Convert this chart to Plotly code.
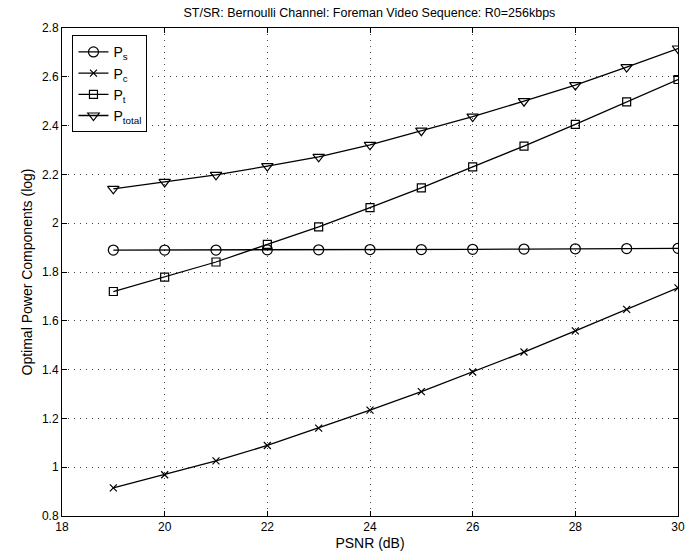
import plotly.graph_objects as go

psnr = [19, 20, 21, 22, 23, 24, 25, 26, 27, 28, 29, 30]
p_s = [1.890, 1.890, 1.890, 1.891, 1.891, 1.892, 1.892, 1.893, 1.894, 1.895, 1.896, 1.897]
p_c = [0.915, 0.969, 1.026, 1.089, 1.160, 1.234, 1.310, 1.390, 1.472, 1.559, 1.647, 1.735]
p_t = [1.720, 1.779, 1.841, 1.913, 1.985, 2.064, 2.145, 2.231, 2.316, 2.405, 2.497, 2.589]
p_total = [2.141, 2.169, 2.198, 2.234, 2.272, 2.321, 2.379, 2.437, 2.500, 2.566, 2.640, 2.716]

x_ticks = [18, 20, 22, 24, 26, 28, 30]
y_ticks = [0.8, 1.0, 1.2, 1.4, 1.6, 1.8, 2.0, 2.2, 2.4, 2.6, 2.8]
y_tick_text = ["0.8", "1", "1.2", "1.4", "1.6", "1.8", "2", "2.2", "2.4", "2.6", "2.8"]

series = [
    ("P<sub>s</sub>", p_s, "circle-open", 10),
    ("P<sub>c</sub>", p_c, "x-thin-open", 7),
    ("P<sub>t</sub>", p_t, "square-open", 8),
    ("P<sub>total</sub>", p_total, "triangle-down-open", 10),
]

fig = go.Figure()
for name, vals, sym, sz in series:
    fig.add_trace(go.Scatter(
        x=psnr, y=vals, name=name, mode="lines+markers",
        line=dict(color="black", width=1.3),
        marker=dict(symbol=sym, size=sz, color="black", line=dict(color="black", width=1.2)),
    ))

axis_common = dict(
    showline=True, linecolor="black", linewidth=1, mirror="ticks",
    ticks="inside", ticklen=5, tickcolor="black",
    showgrid=True, gridcolor="#444444", griddash="1px,5px", gridwidth=1,
    zeroline=False, tickfont=dict(size=12, color="black"),
)

fig.update_layout(
    width=697, height=560,
    paper_bgcolor="white", plot_bgcolor="white",
    font=dict(family="Liberation Sans, Arial, sans-serif", color="black", size=12),
    margin=dict(l=62, r=17, t=28, b=41),
    title=dict(text="ST/SR: Bernoulli Channel: Foreman Video Sequence: R0=256kbps",
               x=0.53, xanchor="center", y=0.985, yanchor="top", font=dict(size=12.5)),
    xaxis=dict(range=[18, 30], tickvals=x_ticks, title=dict(text="PSNR (dB)", standoff=4), **axis_common),
    yaxis=dict(range=[0.8, 2.8], tickvals=y_ticks, ticktext=y_tick_text,
               title=dict(text="Optimal Power Components (log)", standoff=6), **axis_common),
    legend=dict(x=0.017, y=0.985, xanchor="left", yanchor="top",
                bgcolor="white", bordercolor="black", borderwidth=1,
                font=dict(size=14, color="black"), tracegroupgap=0, itemwidth=30),
    showlegend=True,
)

fig.write_html("out.html", config={"displayModeBar": False},
               post_script="document.body.style.margin='0';document.body.style.padding='0';")
